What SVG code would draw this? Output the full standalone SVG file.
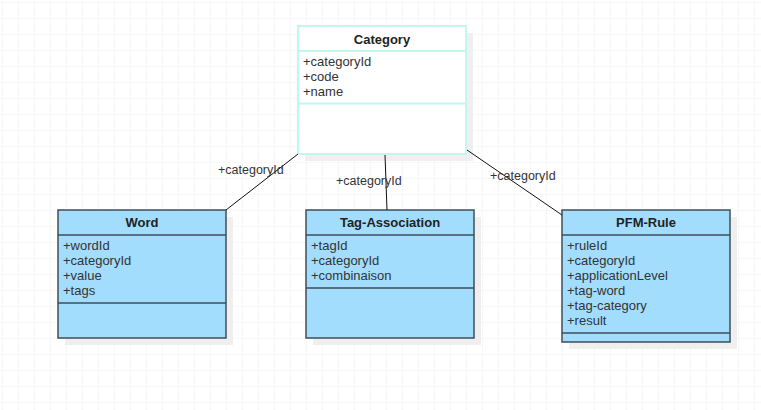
<svg xmlns="http://www.w3.org/2000/svg" width="761" height="410" viewBox="0 0 761 410">
<defs>
<pattern id="grid" x="2" y="2" width="16" height="16" patternUnits="userSpaceOnUse">
<path d="M0 0H16M0 0V16" fill="none" stroke="#efefef" stroke-width="1"/>
</pattern>
<style>
.t{font-family:"Liberation Sans",Arial,sans-serif;font-size:13px;font-weight:bold;fill:#222;text-anchor:middle}
.a{font-family:"Liberation Sans",Arial,sans-serif;font-size:13px;fill:#333}
.l{font-family:"Liberation Sans",Arial,sans-serif;font-size:12.5px;fill:#333}
.box{fill:#a3ddfe;stroke:#3f4d58;stroke-width:1.5}
.sep{stroke:#3f4d58;stroke-width:1.5}
.cbox{fill:#fff;stroke:#c2f7ef;stroke-width:2}
.csep{stroke:#c2f7ef;stroke-width:2}
.sh{fill:#efefef}
.c{stroke:#111;stroke-width:1;fill:none}
</style>
</defs>
<rect x="0" y="0" width="761" height="410" fill="#fff"/>
<rect x="0" y="0" width="761" height="410" fill="url(#grid)"/>
<g id="category">
<rect class="sh" x="305" y="33" width="168" height="128"/>
<rect class="cbox" x="298" y="26" width="168" height="128"/>
<line class="csep" x1="298" y1="51" x2="466" y2="51"/>
<line class="csep" x1="298" y1="103.5" x2="466" y2="103.5"/>
<text class="t" x="382" y="43.5">Category</text>
<text class="a" x="303" y="65.5">+categoryId</text>
<text class="a" x="303" y="80.5">+code</text>
<text class="a" x="303" y="95.5">+name</text>
</g>
<g id="word">
<rect class="sh" x="65" y="217" width="168" height="128"/>
<rect class="box" x="58" y="210" width="168" height="128"/>
<line class="sep" x1="58" y1="235" x2="226" y2="235"/>
<line class="sep" x1="58" y1="303" x2="226" y2="303"/>
<text class="t" x="142" y="227">Word</text>
<text class="a" x="63" y="250">+wordId</text>
<text class="a" x="63" y="265">+categoryId</text>
<text class="a" x="63" y="280">+value</text>
<text class="a" x="63" y="295">+tags</text>
</g>
<g id="tag-association">
<rect class="sh" x="313" y="217" width="168" height="128"/>
<rect class="box" x="306" y="210" width="168" height="128"/>
<line class="sep" x1="306" y1="235" x2="474" y2="235"/>
<line class="sep" x1="306" y1="288" x2="474" y2="288"/>
<text class="t" x="390" y="227">Tag-Association</text>
<text class="a" x="311" y="250">+tagId</text>
<text class="a" x="311" y="265">+categoryId</text>
<text class="a" x="311" y="280">+combinaison</text>
</g>
<g id="pfm-rule">
<rect class="sh" x="569" y="217" width="168" height="132"/>
<rect class="box" x="562" y="210" width="168" height="132"/>
<line class="sep" x1="562" y1="235" x2="730" y2="235"/>
<line class="sep" x1="562" y1="333" x2="730" y2="333"/>
<text class="t" x="646" y="227">PFM-Rule</text>
<text class="a" x="567" y="250">+ruleId</text>
<text class="a" x="567" y="265">+categoryId</text>
<text class="a" x="567" y="280">+applicationLevel</text>
<text class="a" x="567" y="295">+tag-word</text>
<text class="a" x="567" y="310">+tag-category</text>
<text class="a" x="567" y="325">+result</text>
</g>
<g id="connectors">
<line class="c" x1="226" y1="210" x2="298" y2="154"/>
<line class="c" x1="385" y1="155" x2="387" y2="210"/>
<line class="c" x1="467" y1="150" x2="562" y2="215"/>
<text class="l" x="218" y="174">+categoryId</text>
<text class="l" x="336" y="185">+categoryId</text>
<text class="l" x="490" y="180">+categoryId</text>
</g>
</svg>
